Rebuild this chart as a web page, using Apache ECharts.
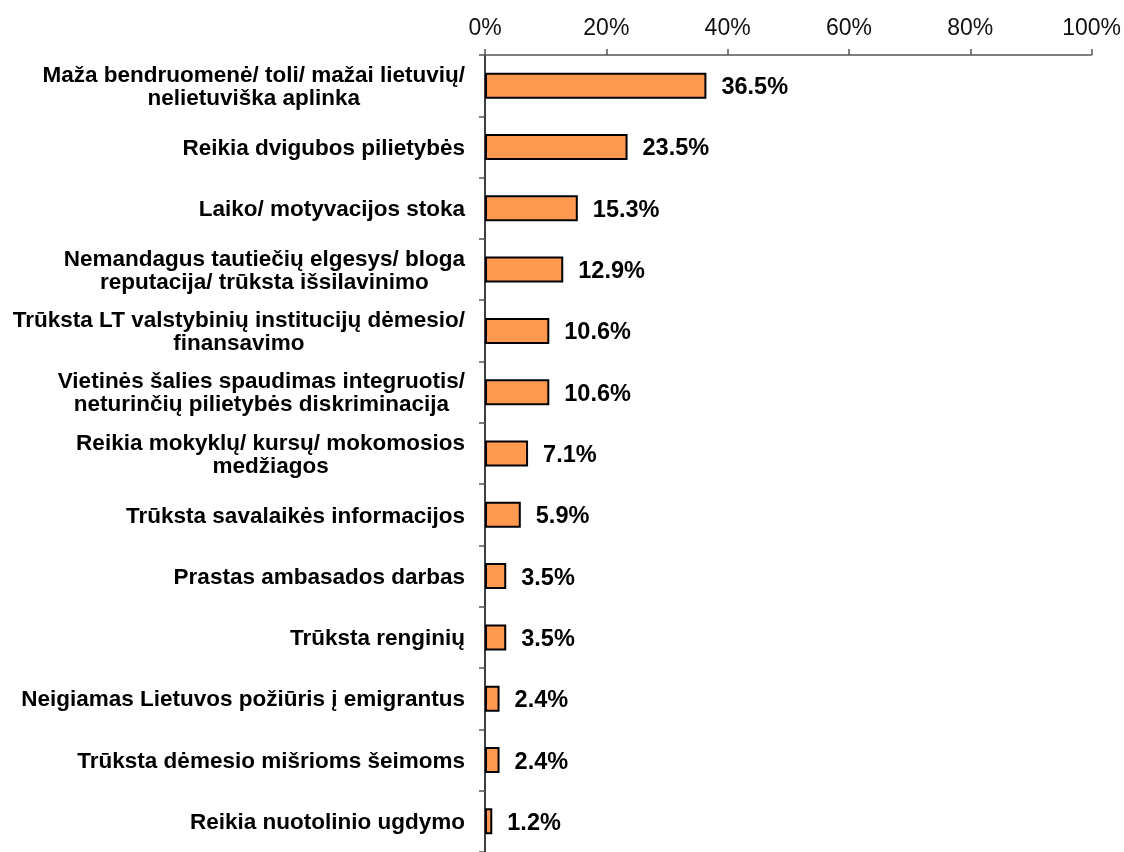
<!DOCTYPE html>
<html>
<head>
<meta charset="utf-8">
<script src="https://cdn.jsdelivr.net/npm/echarts@6/dist/echarts.min.js"></script>
<style>
  html, body { margin: 0; padding: 0; background: #fff; }
  #chart { width: 1124px; height: 852px; }
</style>
</head>
<body>
<div id="chart"></div>
<script>
const categories = [
  "Maža bendruomenė/ toli/ mažai lietuvių/\nnelietuviška aplinka",
  "Reikia dvigubos pilietybės",
  "Laiko/ motyvacijos stoka",
  "Nemandagus tautiečių elgesys/ bloga\nreputacija/ trūksta išsilavinimo",
  "Trūksta LT valstybinių institucijų dėmesio/\nfinansavimo",
  "Vietinės šalies spaudimas integruotis/\nneturinčių pilietybės diskriminacija",
  "Reikia mokyklų/ kursų/ mokomosios\nmedžiagos",
  "Trūksta savalaikės informacijos",
  "Prastas ambasados darbas",
  "Trūksta renginių",
  "Neigiamas Lietuvos požiūris į emigrantus",
  "Trūksta dėmesio mišrioms šeimoms",
  "Reikia nuotolinio ugdymo"
];
const values = [36.5, 23.5, 15.3, 12.9, 10.6, 10.6, 7.1, 5.9, 3.5, 3.5, 2.4, 2.4, 1.2];
const xTicks = [0, 20, 40, 60, 80, 100];

const chart = echarts.init(document.getElementById('chart'), null, { renderer: 'canvas' });
const font = 'Liberation Sans, Arial, sans-serif';
chart.setOption({
  animation: false,
  backgroundColor: '#ffffff',
  grid: { left: 485, width: 608, top: 55, height: 806, containLabel: false },
  xAxis: {
    type: 'value',
    position: 'top',
    min: xTicks[0],
    max: xTicks[xTicks.length - 1],
    interval: 20,
    axisLine: { show: true, lineStyle: { color: '#555555', width: 1.5 } },
    axisTick: { show: true, length: 6, lineStyle: { color: '#555555', width: 1.5 } },
    splitLine: { show: false },
    axisLabel: {
      formatter: v => v + '%',
      fontFamily: font, fontSize: 23, color: '#111111', margin: 15
    }
  },
  yAxis: {
    type: 'category',
    inverse: true,
    data: categories,
    axisLine: { show: true, lineStyle: { color: '#000000', width: 1.5 } },
    axisTick: { show: true, length: 6, lineStyle: { color: '#555555', width: 1.5 } },
    axisLabel: {
      margin: 20,
      align: 'right',
      formatter: v => v.split('\n').map(s => '{c|' + s + '}').join('\n'),
      rich: {
        c: { fontFamily: font, fontSize: 22.5, fontWeight: 'bold', color: '#000000', align: 'center', lineHeight: 23, padding: [3, 0, 0, 0] }
      }
    }
  },
  series: [{
    type: 'bar',
    data: values,
    barWidth: 26,
    itemStyle: { color: '#FF9950', borderColor: '#000000', borderWidth: 2 },
    label: {
      show: true,
      position: 'right',
      distance: 15,
      offset: [0, 2],
      formatter: p => p.value.toFixed(1) + '%',
      fontFamily: font, fontSize: 23.5, fontWeight: 'bold', color: '#000000'
    }
  }]
});
</script>
</body>
</html>
